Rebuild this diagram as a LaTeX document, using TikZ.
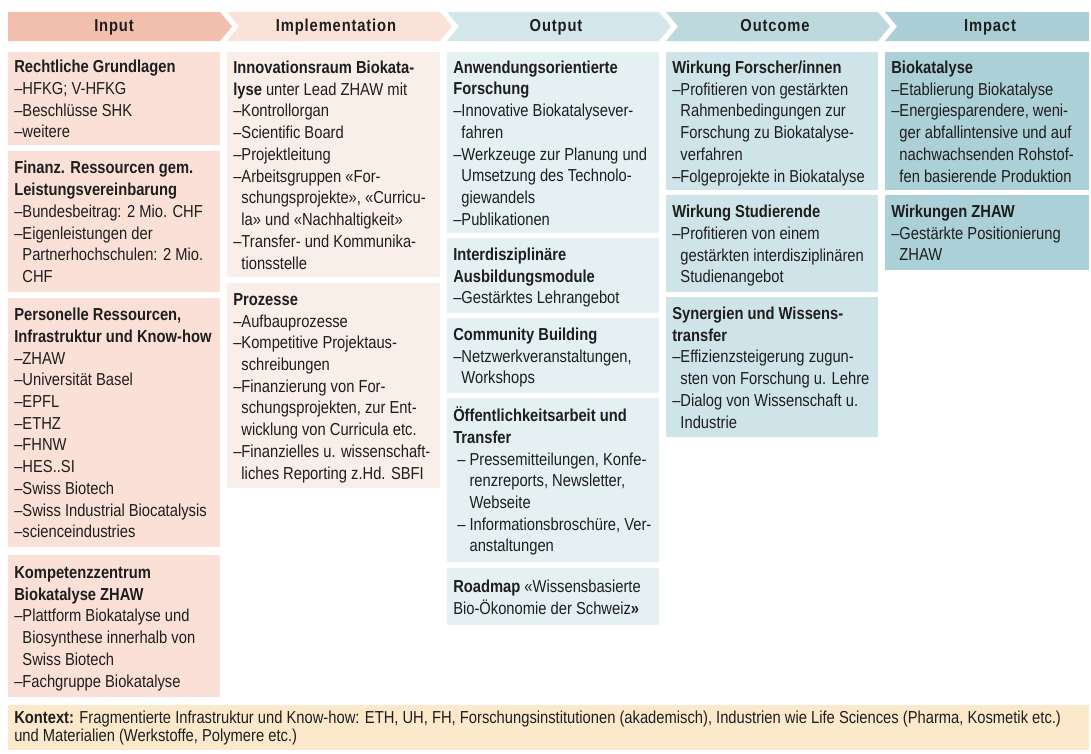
\documentclass[tikz,border=0pt]{standalone}
\usepackage{fontspec}
\setmainfont{Liberation Sans}[FakeStretch=0.85]
\newfontfamily\headfont{Liberation Sans}[FakeStretch=0.85, LetterSpace=5]

\definecolor{ink}{HTML}{1E1E1E}
% header chevrons
\definecolor{hIn}{HTML}{F2BFAD}
\definecolor{hImp}{HTML}{FBE2D8}
\definecolor{hOut}{HTML}{D3E6EA}
\definecolor{hOc}{HTML}{BED9DE}
\definecolor{hImpact}{HTML}{AACFD6}
% column boxes
\definecolor{bIn}{HTML}{FBE0D7}
\definecolor{bImp}{HTML}{FAEEE9}
\definecolor{bOut}{HTML}{E4F0F2}
\definecolor{bOc}{HTML}{CFE4E8}
\definecolor{bImpact}{HTML}{ACD0D7}
\definecolor{bCtx}{HTML}{FCE9CB}

\newcommand\dashi{\textendash}
\newcommand\indi{\phantom{\textendash}}
\newcommand\dashsp{\hspace{3pt}\textendash\ }
\newcommand\indsp{\hspace{3pt}\phantom{\textendash\ }}

\tikzset{
  cellbox/.style={anchor=north west, inner sep=0pt, outer sep=0pt, draw=none},
  celltext/.style={anchor=west, inner sep=0pt, align=left, text=ink,
    font=\fontsize{13}{16.3}\selectfont},
  headtext/.style={anchor=base, text=ink, inner sep=0pt,
    font=\headfont\bfseries\fontsize{13}{15}\selectfont},
}

% a filled box (x1,y1)-(x2,y2) in pixel units with its text block
\newcommand\cell[7]{%
  \pgfmathsetmacro\cellw{(#5-#3)*0.75}%
  \pgfmathsetmacro\cellh{(#6-#4)*0.75}%
  \node[cellbox, fill=#2, minimum width=\cellw pt, minimum height=\cellh pt] (#1) at (#3,#4) {};
  \node[celltext] (#1-t) at ([xshift=4.5pt, yshift=-1.8pt]#1.west) {\strut#7\strut};
}

\begin{document}
\begin{tikzpicture}[x=0.75pt,y=-0.75pt]
\path[use as bounding box, fill=white] (0,0) rectangle (1091,753);

% ---------- header chevrons ----------
\fill[hIn]     (8,12) -- (220,12) -- (232,26.5) -- (220,41) -- (8,41) -- cycle;
\fill[hImp]    (227,12) -- (440,12) -- (452,26.5) -- (440,41) -- (227,41) -- (239,26.5) -- cycle;
\fill[hOut]    (447,12) -- (659,12) -- (671,26.5) -- (659,41) -- (447,41) -- (459,26.5) -- cycle;
\fill[hOc]     (666,12) -- (878,12) -- (890,26.5) -- (878,41) -- (666,41) -- (678,26.5) -- cycle;
\fill[hImpact] (885,12) -- (1089,12) -- (1089,41) -- (885,41) -- (897,26.5) -- cycle;

\node[headtext] (h-in)  at (114,31.5) {Input};
\node[headtext] (h-imp) at (336,31.5) {Implementation};
\node[headtext] (h-out) at (556,31.5) {Output};
\node[headtext] (h-oc)  at (775,31.5) {Outcome};
\node[headtext] (h-ia)  at (990,31.5) {Impact};

% ---------- Input ----------
\cell{in1}{bIn}{8}{52}{220}{145}{%
\textbf{Rechtliche Grundlagen}\\
\dashi HFKG; V-HFKG\\
\dashi Beschlüsse SHK\\
\dashi weitere}

\cell{in2}{bIn}{8}{151}{220}{292}{%
\textbf{Finanz. Ressourcen gem.}\\
\textbf{Leistungsvereinbarung}\\
\dashi Bundesbeitrag: 2 Mio. CHF\\
\dashi Eigenleistungen der\\
\indi Partnerhochschulen: 2 Mio.\\
\indi CHF}

\cell{in3}{bIn}{8}{298}{220}{547}{%
\textbf{Personelle Ressourcen,}\\
\textbf{Infrastruktur und Know-how}\\
\dashi ZHAW\\
\dashi Universität Basel\\
\dashi EPFL\\
\dashi ETHZ\\
\dashi FHNW\\
\dashi HES..SI\\
\dashi Swiss Biotech\\
\dashi Swiss Industrial Biocatalysis\\
\dashi scienceindustries}

\cell{in4}{bIn}{8}{555}{220}{697}{%
\textbf{Kompetenzzentrum}\\
\textbf{Biokatalyse ZHAW}\\
\dashi Plattform Biokatalyse und\\
\indi Biosynthese innerhalb von\\
\indi Swiss Biotech\\
\dashi Fachgruppe Biokatalyse}

% ---------- Implementation ----------
\cell{im1}{bImp}{227}{52}{440}{277}{%
\textbf{Innovationsraum Biokata-}\\
\textbf{lyse} unter Lead ZHAW mit\\
\dashi Kontrollorgan\\
\dashi Scientific Board\\
\dashi Projektleitung\\
\dashi Arbeitsgruppen «For-\\
\indi schungsprojekte», «Curricu-\\
\indi la» und «Nachhaltigkeit»\\
\dashi Transfer- und Kommunika-\\
\indi tionsstelle}

\cell{im2}{bImp}{227}{283}{440}{488}{%
\textbf{Prozesse}\\
\dashi Aufbauprozesse\\
\dashi Kompetitive Projektaus-\\
\indi schreibungen\\
\dashi Finanzierung von For-\\
\indi schungsprojekten, zur Ent-\\
\indi wicklung von Curricula etc.\\
\dashi Finanzielles u. wissenschaft-\\
\indi liches Reporting z.Hd. SBFI}

% ---------- Output ----------
\cell{ou1}{bOut}{447}{52}{659}{233}{%
\textbf{Anwendungsorientierte}\\
\textbf{Forschung}\\
\dashi Innovative Biokatalysever-\\
\indi fahren\\
\dashi Werkzeuge zur Planung und\\
\indi Umsetzung des Technolo-\\
\indi giewandels\\
\dashi Publikationen}

\cell{ou2}{bOut}{447}{238}{659}{313}{%
\textbf{Interdisziplinäre}\\
\textbf{Ausbildungsmodule}\\
\dashi Gestärktes Lehrangebot}

\cell{ou3}{bOut}{447}{318}{659}{393}{%
\textbf{Community Building}\\
\dashi Netzwerkveranstaltungen,\\
\indi Workshops}

\cell{ou4}{bOut}{447}{398}{659}{562}{%
\textbf{Öffentlichkeitsarbeit und}\\
\textbf{Transfer}\\
\dashsp Pressemitteilungen, Konfe-\\
\indsp renzreports, Newsletter,\\
\indsp Webseite\\
\dashsp Informationsbroschüre, Ver-\\
\indsp anstaltungen}

\cell{ou5}{bOut}{447}{568}{659}{625}{%
\textbf{Roadmap} «Wissensbasierte\\
Bio-Ökonomie der Schweiz\textbf{»}}

% ---------- Outcome ----------
\cell{oc1}{bOc}{666}{52}{878}{190}{%
\textbf{Wirkung Forscher/innen}\\
\dashi Profitieren von gestärkten\\
\indi Rahmenbedingungen zur\\
\indi Forschung zu Biokatalyse-\\
\indi verfahren\\
\dashi Folgeprojekte in Biokatalyse}

\cell{oc2}{bOc}{666}{195}{878}{292}{%
\textbf{Wirkung Studierende}\\
\dashi Profitieren von einem\\
\indi gestärkten interdisziplinären\\
\indi Studienangebot}

\cell{oc3}{bOc}{666}{297}{878}{437}{%
\textbf{Synergien und Wissens-}\\
\textbf{transfer}\\
\dashi Effizienzsteigerung zugun-\\
\indi sten von Forschung u. Lehre\\
\dashi Dialog von Wissenschaft u.\\
\indi Industrie}

% ---------- Impact ----------
\cell{ia1}{bImpact}{885}{52}{1089}{190}{%
\textbf{Biokatalyse}\\
\dashi Etablierung Biokatalyse\\
\dashi Energiesparendere, weni-\\
\indi ger abfallintensive und auf\\
\indi nachwachsenden Rohstof-\\
\indi fen basierende Produktion}

\cell{ia2}{bImpact}{885}{195}{1089}{270}{%
\textbf{Wirkungen ZHAW}\\
\dashi Gestärkte Positionierung\\
\indi ZHAW}

% ---------- context ----------
\pgfmathsetmacro\cellw{(1089-8)*0.75}
\pgfmathsetmacro\cellh{(750-705)*0.75}
\node[cellbox, fill=bCtx, minimum width=\cellw pt, minimum height=\cellh pt] (ctx) at (8,705) {};
\node[celltext, font=\fontsize{13}{13.8}\selectfont] (ctx-t) at ([xshift=4.5pt, yshift=-1pt]ctx.west) {\strut\textbf{Kontext:} Fragmentierte Infrastruktur und Know-how: ETH, UH, FH, Forschungsinstitutionen (akademisch), Industrien wie Life Sciences (Pharma, Kosmetik etc.)\\
und Materialien (Werkstoffe, Polymere etc.)\strut};
\end{tikzpicture}
\end{document}
